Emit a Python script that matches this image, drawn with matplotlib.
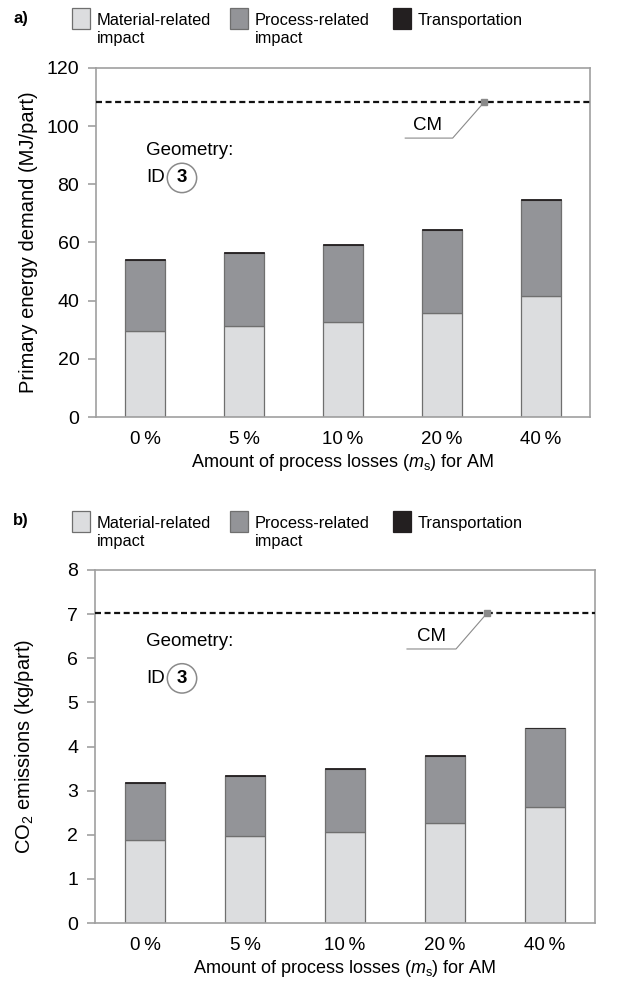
import matplotlib
matplotlib.use("Agg")
import matplotlib.pyplot as plt
from matplotlib.patches import Rectangle
import numpy as np

plt.rcParams['font.family'] = ['Liberation Sans', 'DejaVu Sans']
plt.rcParams['mathtext.fontset'] = 'custom'
plt.rcParams['mathtext.rm'] = 'Liberation Sans'
plt.rcParams['mathtext.it'] = 'Liberation Sans:italic'
plt.rcParams['mathtext.bf'] = 'Liberation Sans:bold'

categories = ["0\u2009%", "5\u2009%", "10\u2009%", "20\u2009%", "40\u2009%"]

# a) Primary energy demand (MJ/part)
energy_material = [29.6, 31.2, 32.7, 35.7, 41.7]
energy_process = [24.4, 25.2, 26.5, 28.6, 33.0]
energy_transport = [0.3, 0.3, 0.3, 0.3, 0.3]
energy_cm = 108.3

# b) CO2 emissions (kg/part)
co2_material = [1.89, 1.97, 2.07, 2.27, 2.64]
co2_process = [1.28, 1.36, 1.42, 1.52, 1.77]
co2_transport = [0.02, 0.02, 0.02, 0.02, 0.02]
co2_cm = 7.02

legend_labels = [["Material-related", "impact"], ["Process-related", "impact"], ["Transportation"]]

C_MAT = "#dcdddf"
C_PROC = "#939498"
C_TRANS = "#231f20"
C_EDGE = "#6f6f6f"
C_SPINE = "#a0a0a0"

W, H = 617, 989
fig = plt.figure(figsize=(W / 100, H / 100), dpi=100)


def fx(px):
    return px / W


def fy(py):
    return 1 - py / H


def panel(ax_box, mat, proc, trans, cm, ymax, ystep, ylabel, label, box_top,
          cm_pts, cm_text, geo_y, id_y):
    l, r, t, b = ax_box
    ax = fig.add_axes([fx(l), fy(b), fx(r) - fx(l), fy(t) - fy(b)])
    x = np.arange(len(categories))
    w = 0.405
    mat = np.array(mat)
    proc = np.array(proc)
    trans = np.array(trans)
    ax.bar(x, mat, w, color=C_MAT, edgecolor=C_EDGE, linewidth=0.9, zorder=2)
    ax.bar(x, proc, w, bottom=mat, color=C_PROC, edgecolor=C_EDGE, linewidth=0.9, zorder=2)
    ax.bar(x, trans, w, bottom=mat + proc, color=C_TRANS, edgecolor=C_TRANS, linewidth=0.6, zorder=3)
    ax.axhline(cm, color="#111111", linestyle=(0, (2.7, 1.6)), linewidth=1.6, zorder=4)
    ax.set_xlim(-0.5, len(categories) - 0.5)
    ax.set_ylim(0, ymax)
    ax.set_yticks(np.arange(0, ymax + ystep / 2, ystep))
    ax.set_xticks(x)
    ax.set_xticklabels(categories, fontsize=13.5)
    ax.tick_params(axis='x', length=0, pad=10)
    ax.tick_params(axis='y', length=6, width=1.2, color=C_SPINE, labelsize=14, pad=6)
    for s in ax.spines.values():
        s.set_color(C_SPINE)
        s.set_linewidth(1.2)
    ax.set_ylabel(ylabel, fontsize=14.5)
    ax.yaxis.set_label_coords(-0.118, 0.5)
    ax.set_xlabel(r"Amount of process losses ($\mathit{m}_\mathrm{s}$) for AM",
                  fontsize=13, labelpad=3)
    # CM annotation
    (mx, my), (ex, ey), (hx, hy) = cm_pts
    ax.plot([mx, ex, hx], [my, ey, hy], color="#8a8a8a", linewidth=0.8, zorder=5)
    ax.plot([mx], [my], marker='s', markersize=5, color="#8a8a8a", zorder=6)
    ax.text(cm_text[0], cm_text[1], "CM", fontsize=13.5, ha='center', va='center', zorder=6)
    # Geometry text
    ax.text(0.102, geo_y, "Geometry:", transform=ax.transAxes, fontsize=13.5,
            ha='left', va='center')
    ax.text(0.102, id_y, "ID", transform=ax.transAxes, fontsize=13.5,
            ha='left', va='center')
    ax.text(0.174, id_y, "3", transform=ax.transAxes, fontsize=13.5, fontweight='bold',
            ha='center', va='center',
            bbox=dict(boxstyle='circle,pad=0.33', fc='white', ec='#8a8a8a', lw=1.1))
    # Panel label
    fig.text(fx(13), fy(box_top + 10), label, fontsize=12, fontweight='bold',
             ha='left', va='center')
    # Legend
    boxes = [(72, C_MAT), (230, C_PROC), (393, C_TRANS)]
    for (bx, col), lines in zip(boxes, legend_labels):
        rect = Rectangle((fx(bx), fy(box_top + 21)), fx(18), 21 / H,
                         transform=fig.transFigure, facecolor=col,
                         edgecolor=C_EDGE if col != C_TRANS else C_TRANS,
                         linewidth=0.9)
        fig.add_artist(rect)
        for i, line in enumerate(lines):
            fig.text(fx(bx + 25), fy(box_top + 17 + 18 * i), line, fontsize=11.8,
                     ha='left', va='baseline')
    return ax


panel((96, 590, 68, 417), energy_material, energy_process, energy_transport,
      energy_cm, 120, 20, "Primary energy demand (MJ/part)", "a)", 8,
      [(3.43, energy_cm), (3.11, 95.9), (2.63, 95.9)], (2.86, 100.3), 0.765, 0.685)

panel((95, 595, 570, 923), co2_material, co2_process, co2_transport,
      co2_cm, 8, 1, r"CO$_\mathregular{2}$ emissions (kg/part)", "b)", 511,
      [(3.42, co2_cm), (3.11, 6.21), (2.62, 6.21)], (2.86, 6.5), 0.797, 0.693)

fig.savefig("out.png", dpi=100)
